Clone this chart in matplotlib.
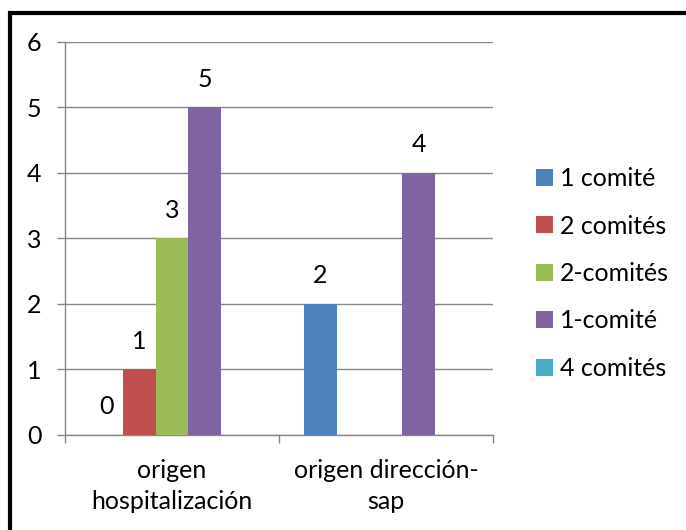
import numpy as np
import matplotlib
matplotlib.use("Agg")
import matplotlib.pyplot as plt
from matplotlib.patches import Rectangle

plt.rcParams['font.family'] = ['Lato', 'DejaVu Sans']

categories = ['origen\nhospitalización', 'origen dirección-\nsap']
series = ['1 comité', '2 comités', '2-comités', '1-comité', '4 comités']
values = {
    '1 comité':  [0, 2],
    '2 comités': [1, np.nan],
    '2-comités': [3, np.nan],
    '1-comité':  [5, 4],
    '4 comités': [np.nan, np.nan],
}
colors = ['#4F81BD', '#C0504D', '#9BBB59', '#8064A2', '#4BACC6']
yticks = [0, 1, 2, 3, 4, 5, 6]

FS = 18
grid_col = '#878787'

fig = plt.figure(figsize=(6.86, 5.30), dpi=100)
ax = fig.add_axes([65/686, 1 - 435/530, (493 - 65)/686, (435 - 41.7)/530])

x = np.arange(len(categories))
w = 1 / 6.5
handles = []
for i, name in enumerate(series):
    vals = np.array(values[name], dtype=float)
    pos = x + (i - 2) * w
    b = ax.bar(pos, np.nan_to_num(vals), width=w, color=colors[i], label=name,
               zorder=3, linewidth=0)
    handles.append(b)
    for p, v in zip(pos, vals):
        if np.isnan(v):
            continue
        ax.annotate(f'{v:g}', (p, v), xytext=(0, 12), textcoords='offset points',
                    ha='center', va='bottom', fontsize=FS, color='black')

ax.set_xlim(-0.5, len(categories) - 0.5)
ax.set_ylim(0, 6)
ax.set_yticks(yticks)
ax.yaxis.grid(True, color=grid_col, linewidth=1.0, zorder=0)
ax.set_axisbelow(True)

# category boundary ticks (major) and centred labels (minor)
ax.set_xticks(np.arange(-0.5, len(categories), 1.0))
ax.set_xticklabels([])
ax.set_xticks(x, minor=True)
ax.set_xticklabels(categories, minor=True, fontsize=FS, linespacing=1.45)
ax.tick_params(axis='x', which='major', length=6, color=grid_col, width=1.0)
ax.tick_params(axis='x', which='minor', length=0, pad=17)
ax.tick_params(axis='y', length=6, color=grid_col, width=1.0, pad=11, labelsize=FS)

for s in ['top', 'right']:
    ax.spines[s].set_visible(False)
for s in ['left', 'bottom']:
    ax.spines[s].set_color(grid_col)
    ax.spines[s].set_linewidth(1.0)

leg = fig.legend(handles=handles, loc='center left',
                 bbox_to_anchor=(536/686, 1 - 273.5/530), frameon=False,
                 fontsize=FS, handlelength=0.68, handleheight=0.68,
                 handletextpad=0.28, labelspacing=0.98, borderpad=0,
                 borderaxespad=0)

# outer chart border (only top and left edges fall inside the image)
fig.patches.append(Rectangle((10.3/686, -0.1), 1.2, 1.1 - 12.5/530,
                             transform=fig.transFigure, fill=False,
                             edgecolor='black', linewidth=3.0))

fig.savefig('out.png', dpi=100)
